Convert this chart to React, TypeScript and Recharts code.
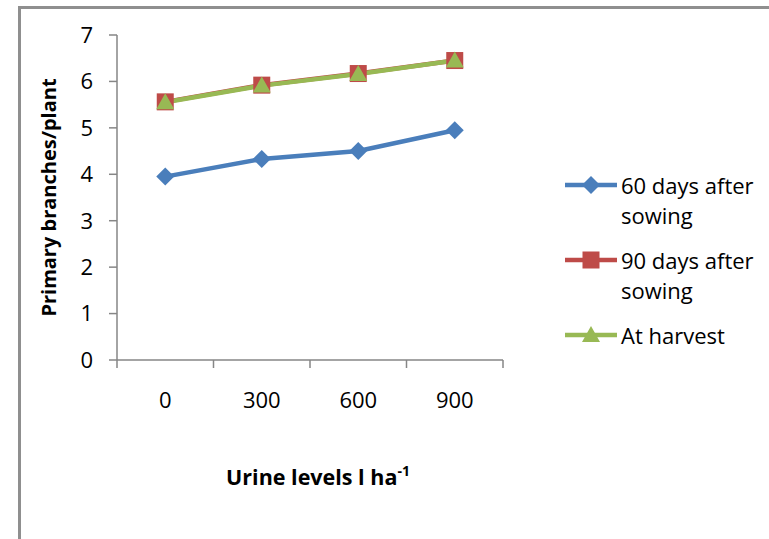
import React from 'react';
import { LineChart, Line, XAxis, YAxis } from 'recharts';

// urine application levels (l/ha) and primary branches per plant
const levels = ['0', '300', '600', '900'];
const days60 = [3.95, 4.33, 4.5, 4.95];
const days90 = [5.56, 5.92, 6.17, 6.45];
const harvest = [5.55, 5.91, 6.16, 6.45];
const yTicks = [0, 1, 2, 3, 4, 5, 6, 7];

const FONT = '"Open Sans", sans-serif';
const AXIS = '#868686';

type Shape = 'diamond' | 'square' | 'triangle';
const SERIES: { key: string; name: string; color: string; shape: Shape }[] = [
  { key: 'd60', name: '60 days after sowing', color: '#4A7EBB', shape: 'diamond' },
  { key: 'd90', name: '90 days after sowing', color: '#BE4B48', shape: 'square' },
  { key: 'harvest', name: 'At harvest', color: '#98B954', shape: 'triangle' },
];

const data = levels.map((level, i) => ({
  level,
  pos: i + 0.5,
  d60: days60[i],
  d90: days90[i],
  harvest: harvest[i],
}));

// boundaries between categories plus the band centres
const xTicks = Array.from({ length: levels.length * 2 + 1 }, (_, i) => i / 2);

function Marker({ shape, color, cx, cy }: { shape: Shape; color: string; cx: number; cy: number }) {
  if (shape === 'diamond')
    return <polygon points={`${cx},${cy - 9} ${cx + 9},${cy} ${cx},${cy + 9} ${cx - 9},${cy}`} fill={color} />;
  if (shape === 'square')
    return <rect x={cx - 8.5} y={cy - 8.5} width={17} height={17} fill={color} />;
  return <polygon points={`${cx},${cy - 9} ${cx + 9},${cy + 7} ${cx - 9},${cy + 7}`} fill={color} />;
}

function XTick(props: any) {
  const { x, y, payload } = props;
  const v = payload.value as number;
  if (Number.isInteger(v)) return <line x1={x} y1={y} x2={x} y2={y + 8} stroke={AXIS} strokeWidth={1.5} />;
  return (
    <text x={x} y={y + 48} textAnchor="middle" fontSize={22} fontFamily={FONT} fill="#000">
      {levels[v - 0.5]}
    </text>
  );
}

function Legend() {
  return (
    <div style={{ position: 'absolute', left: 565, top: 170, width: 200, fontFamily: FONT, fontSize: 22, lineHeight: '30px', color: '#000' }}>
      {SERIES.map(s => (
        <div key={s.key} style={{ display: 'flex', alignItems: 'flex-start', marginBottom: 15 }}>
          <svg width={56} height={30} style={{ flex: 'none' }}>
            <line x1={0} y1={15} x2={52} y2={15} stroke={s.color} strokeWidth={4.5} />
            <Marker shape={s.shape} color={s.color} cx={26} cy={15} />
          </svg>
          <div style={{ width: 140 }}>{s.name}</div>
        </div>
      ))}
    </div>
  );
}

export default function App() {
  return (
    <div style={{ position: 'absolute', left: 0, top: 0, width: 769, height: 539, overflow: 'hidden', background: '#fff' }}>
      <div style={{ position: 'absolute', left: 18, top: 6, width: 800, height: 600, borderTop: '3px solid #8f8f8f', borderLeft: '3px solid #8f8f8f' }} />
      <div style={{ position: 'absolute', left: 0, top: 0 }}>
        <LineChart width={769} height={539} data={data} margin={{ top: 35, right: 266, bottom: 49, left: 20 }} style={{ fontFamily: FONT }}>
          <XAxis
            dataKey="pos"
            type="number"
            domain={[0, levels.length]}
            ticks={xTicks}
            interval={0}
            height={130}
            tickSize={0}
            tickMargin={0}
            tickLine={false}
            axisLine={{ stroke: AXIS, strokeWidth: 1.5 }}
            tick={<XTick />}
            label={{
              content: ({ viewBox }: any) => (
                <text x={viewBox.x + viewBox.width / 2 + 8} y={viewBox.y + 125} textAnchor="middle" fontFamily={FONT} fontWeight="bold" fontSize={21.5} fill="#000">
                  Urine levels l ha<tspan fontSize={14} dy={-9}>-1</tspan>
                </text>
              ),
            }}
          />
          <YAxis
            domain={[0, 7]}
            ticks={yTicks}
            interval={0}
            width={97}
            tickSize={8}
            tickMargin={16}
            tick={{ fill: '#000', fontSize: 22, fontFamily: FONT }}
            tickLine={{ stroke: AXIS, strokeWidth: 1.5 }}
            axisLine={{ stroke: AXIS, strokeWidth: 1.5 }}
            label={{
              content: ({ viewBox }: any) => {
                const cx = viewBox.x + 36;
                const cy = viewBox.y + viewBox.height / 2;
                return (
                  <text x={cx} y={cy} transform={`rotate(-90 ${cx} ${cy})`} textAnchor="middle" fontFamily={FONT} fontWeight="bold" fontSize={20} fill="#000">
                    Primary branches/plant
                  </text>
                );
              },
            }}
          />
          {SERIES.map(s => (
            <Line
              key={s.key}
              dataKey={s.key}
              name={s.name}
              stroke={s.color}
              strokeWidth={4.5}
              isAnimationActive={false}
              activeDot={false}
              dot={(p: any) => <Marker key={p.index} shape={s.shape} color={s.color} cx={p.cx} cy={p.cy} />}
            />
          ))}
        </LineChart>
      </div>
      <Legend />
    </div>
  );
}
